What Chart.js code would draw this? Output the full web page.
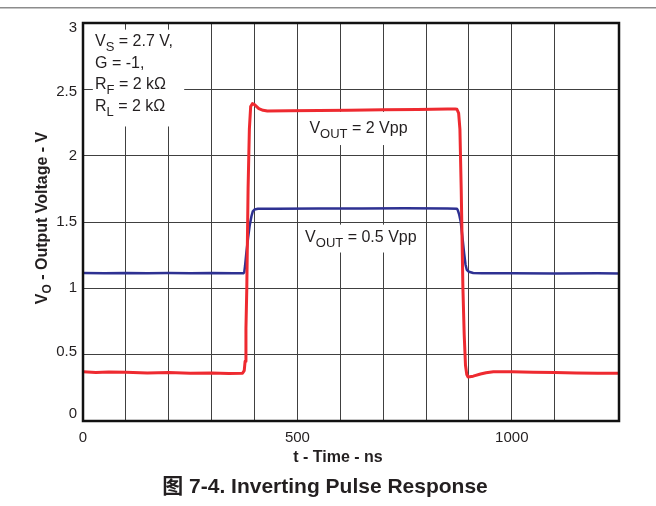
<!DOCTYPE html>
<html>
<head>
<meta charset="utf-8">
<script src="https://cdn.jsdelivr.net/npm/chart.js@4.4.1/dist/chart.umd.min.js"></script>
<style>
  body { margin: 0; background: #fff; }
  #wrap { position: relative; width: 656px; height: 506px; }
</style>
</head>
<body>
<div id="wrap"><canvas id="chart"></canvas></div>
<script>
const FONT = '"Liberation Sans", Arial, "Noto Sans CJK SC", sans-serif';

// red trace, V_OUT = 2 Vpp (time in ns, volts)
const redTime = [0, 30, 60, 100, 150, 200, 250, 300, 340, 372, 376, 378, 380, 382, 385, 388, 391, 395, 400, 405, 410, 420, 430,
  480, 550, 620, 700, 780, 850, 868, 872, 876, 879, 882, 886, 889, 892, 895, 898, 910, 927, 940, 957, 1000, 1050, 1100, 1150, 1200, 1250];
const redVolt = [0.372, 0.366, 0.37, 0.368, 0.362, 0.366, 0.36, 0.362, 0.358, 0.36, 0.38, 0.45, 0.7, 1.0, 1.75, 2.2, 2.37, 2.392, 2.385, 2.37, 2.355, 2.342, 2.336,
  2.338, 2.34, 2.342, 2.346, 2.348, 2.352, 2.352, 2.35, 2.32, 2.2, 1.75, 1.0, 0.65, 0.42, 0.35, 0.332, 0.338, 0.354, 0.364, 0.372, 0.372, 0.368, 0.366, 0.362, 0.36, 0.36];

// blue trace, V_OUT = 0.5 Vpp
const blueTime = [0, 50, 100, 150, 200, 250, 300, 350, 374, 376, 378, 381, 385, 389, 393, 396, 400, 408, 450, 550, 650, 750, 850,
  872, 874, 877, 881, 885, 889, 892, 895, 900, 910, 930, 1000, 1100, 1200, 1250];
const blueVolt = [1.116, 1.114, 1.116, 1.113, 1.115, 1.114, 1.116, 1.113, 1.114, 1.12, 1.17, 1.27, 1.38, 1.48, 1.545, 1.58, 1.594, 1.6, 1.6, 1.602, 1.601, 1.603, 1.602,
  1.6, 1.59, 1.56, 1.5, 1.38, 1.26, 1.18, 1.14, 1.125, 1.116, 1.113, 1.114, 1.112, 1.113, 1.112];

const xTickLabels = [0, 500, 1000];
const yTickLabels = [0, 0.5, 1, 1.5, 2, 2.5, 3];

const infoLines = [
  [['V', 0], ['S', 1], [' = 2.7 V,', 0]],
  [['G = -1,', 0]],
  [['R', 0], ['F', 1], [' = 2 k\u03A9', 0]],
  [['R', 0], ['L', 1], [' = 2 k\u03A9', 0]]
];
const bigLabel = [['V', 0], ['OUT', 1], [' = 2 Vpp', 0]];
const smallLabel = [['V', 0], ['OUT', 1], [' = 0.5 Vpp', 0]];
const yTitle = [['V', 0], ['O', 1], [' - Output Voltage - V', 0]];

// the original nudges the outer y labels towards the middle of the axis
function yLabelNudge(v) {
  if (v === 3) return 10;
  if (v === 2.5) return 6;
  if (v === 0.5) return -6;
  if (v === 0) return -14;
  return 0;
}

function partsWidth(ctx, parts, size, subSize, weight) {
  let w = 0;
  parts.forEach(([txt, sub]) => {
    ctx.font = weight + (sub ? subSize : size) + 'px ' + FONT;
    w += ctx.measureText(txt).width;
  });
  return w;
}

function drawParts(ctx, parts, x, y, size, subSize, shift, weight) {
  let cx = x;
  parts.forEach(([txt, sub]) => {
    ctx.font = weight + (sub ? subSize : size) + 'px ' + FONT;
    ctx.fillText(txt, cx, sub ? y + shift : y);
    cx += ctx.measureText(txt).width;
  });
}

const decor = {
  id: 'decor',
  beforeDraw(chart) {
    const ctx = chart.ctx;
    ctx.save();
    ctx.fillStyle = '#fff';
    ctx.fillRect(0, 0, chart.width, chart.height);
    ctx.fillStyle = '#8c8c8c';
    ctx.fillRect(0, 7, chart.width, 1.5);
    ctx.restore();
  },
  beforeDatasetsDraw(chart) {
    const ctx = chart.ctx;
    const xs = chart.scales.x, ys = chart.scales.y;
    const px = v => xs.getPixelForValue(v);
    const py = v => ys.getPixelForValue(v);
    ctx.save();
    ctx.fillStyle = '#fff';
    // white boxes behind the notes
    ctx.fillRect(px(23), py(2.95), px(236) - px(23), py(2.22) - py(2.95));
    ctx.fillRect(px(518), py(2.33), px(768) - px(518), py(2.08) - py(2.33));
    ctx.fillRect(px(506), py(1.48), px(785) - px(506), py(1.27) - py(1.48));
    ctx.fillStyle = '#231f20';
    ctx.textBaseline = 'alphabetic';
    ctx.textAlign = 'left';
    infoLines.forEach((line, i) => {
      drawParts(ctx, line, px(28), py(2.824) + i * 21.5, 16, 13, 5, '');
    });
    drawParts(ctx, bigLabel, px(528), py(2.172), 16, 13, 5, '');
    drawParts(ctx, smallLabel, px(518), py(1.353), 16, 13, 5, '');
    ctx.restore();
  },
  afterDraw(chart) {
    const ctx = chart.ctx;
    const a = chart.chartArea;
    ctx.save();
    ctx.strokeStyle = '#111';
    ctx.lineWidth = 2.5;
    ctx.strokeRect(a.left, a.top, a.right - a.left, a.bottom - a.top);
    ctx.fillStyle = '#231f20';
    ctx.textAlign = 'left';
    ctx.textBaseline = 'alphabetic';
    // y axis title
    ctx.translate(47, 218);
    ctx.rotate(-Math.PI / 2);
    const w = partsWidth(ctx, yTitle, 16, 12, 'bold ');
    drawParts(ctx, yTitle, -w / 2, 0, 16, 12, 4, 'bold ');
    ctx.setTransform(1, 0, 0, 1, 0, 0);
    // x axis title and caption
    ctx.textAlign = 'center';
    ctx.font = 'bold 16px ' + FONT;
    ctx.fillText('t - Time - ns', 338, 461.5);
    ctx.font = 'bold 21px ' + FONT;
    ctx.fillText('\u56FE 7-4. Inverting Pulse Response', 325, 493);
    ctx.restore();
  }
};

new Chart(document.getElementById('chart'), {
  type: 'line',
  data: {
    datasets: [
      {
        label: 'V_OUT = 2 Vpp',
        data: redTime.map((t, i) => ({ x: t, y: redVolt[i] })),
        borderColor: '#ee2a30',
        borderWidth: 3,
        pointRadius: 0,
        tension: 0,
        borderJoinStyle: 'round'
      },
      {
        label: 'V_OUT = 0.5 Vpp',
        data: blueTime.map((t, i) => ({ x: t, y: blueVolt[i] })),
        borderColor: '#2e3192',
        borderWidth: 2.5,
        pointRadius: 0,
        tension: 0,
        borderJoinStyle: 'round'
      }
    ]
  },
  options: {
    responsive: true,
    maintainAspectRatio: false,
    animation: false,
    layout: { padding: { left: 0, right: 37, top: 23, bottom: 40 } },
    plugins: { legend: { display: false }, tooltip: { enabled: false } },
    scales: {
      x: {
        type: 'linear',
        min: 0,
        max: 1250,
        afterFit: s => { s.height = 45; },
        border: { display: false },
        grid: { color: '#404040', lineWidth: 1, drawTicks: false },
        ticks: {
          stepSize: 100,
          padding: 8,
          color: '#231f20',
          font: { family: FONT, size: 15 },
          maxRotation: 0,
          autoSkip: false,
          callback: v => (xTickLabels.includes(v) ? String(v) : '')
        }
      },
      y: {
        min: 0,
        max: 3,
        afterFit: s => { s.width = 83; },
        border: { display: false },
        grid: { color: '#404040', lineWidth: 1, drawTicks: false },
        ticks: {
          stepSize: 0.5,
          padding: 6,
          color: '#231f20',
          font: c => {
            const n = c.tick ? yLabelNudge(c.tick.value) : 0;
            return { family: FONT, size: 15, lineHeight: n ? Math.abs(n) + 'px' : 1.2 };
          },
          callback: v => {
            if (!yTickLabels.includes(v)) return '';
            const n = yLabelNudge(v);
            if (n > 0) return ['', String(v)];
            if (n < 0) return [String(v), ''];
            return String(v);
          }
        }
      }
    }
  },
  plugins: [decor]
});
</script>
</body>
</html>
